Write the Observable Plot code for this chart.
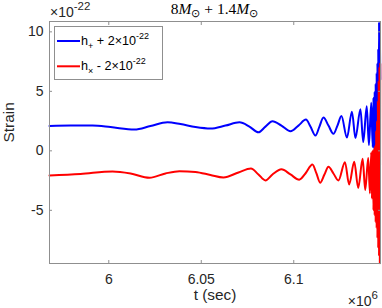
<!DOCTYPE html>
<html><head><meta charset="utf-8">
<script src="https://cdn.jsdelivr.net/npm/d3@7"></script>
<script src="https://cdn.jsdelivr.net/npm/@observablehq/plot@0.6"></script>
<style>
html,body{margin:0;padding:0;background:#fff;}
#chart svg{display:block;}
</style></head><body><div id="chart"></div>
<script>
// time in units of 10^6 s, strain in units of 10^-22
const tPlus = [5.96795,5.9793,5.99119,6.00092,6.01389,6.02254,6.03173,6.03876,6.04686,6.05497,6.06308,6.07065,6.07605,6.08092,6.0847,6.08849,6.09335,6.09822,6.10254,6.10659,6.10903,6.11173,6.11389,6.11605,6.11876,6.12146,6.12362,6.12578,6.12876,6.13146,6.13335,6.13605,6.13757,6.13946,6.14065,6.14189,6.1427,6.14308,6.14341,6.14373,6.144,6.14427,6.14454,6.14481,6.14503,6.14524,6.14546,6.14568,6.14589,6.14611,6.14632,6.14654,6.14676];
const hPlus = [2.096,2.137,2.121,1.995,1.785,2.079,2.397,2.246,1.995,1.869,2.121,2.397,2.037,1.559,2.037,2.481,2.121,1.643,2.121,2.624,2.037,1.282,2.037,2.791,2.121,1.425,2.121,2.917,1.115,3.294,1.073,3.504,0.738,3.755,0.486,4.049,0.318,4.47,0.19,4.97,0.11,5.64,0.11,6.56,0.19,7.4,0.5,8.58,1.0,10.84,4.0,10.7,6.0];
const tCross = [5.96795,5.98471,6.00205,6.01178,6.022,6.03065,6.03822,6.04686,6.05497,6.062,6.07011,6.07686,6.08092,6.0847,6.08849,6.09335,6.09822,6.10297,6.10632,6.11011,6.11227,6.11427,6.11659,6.11876,6.12146,6.12416,6.12768,6.12995,6.1327,6.13486,6.13724,6.13865,6.14027,6.14119,6.14189,6.14227,6.1427,6.14308,6.14341,6.14373,6.144,6.14427,6.14454,6.14481,6.14503,6.14524,6.14546,6.14568,6.14589,6.14611,6.14632,6.14654,6.14676];
const hCross = [-2.07,-1.945,-1.735,-1.903,-2.263,-1.903,-1.71,-1.776,-2.028,-2.238,-1.819,-1.484,-1.987,-2.49,-1.987,-1.551,-1.987,-2.422,-1.903,-1.148,-1.903,-2.674,-1.987,-1.341,-1.903,-2.49,-0.956,-2.825,-0.922,-3.118,-0.671,-3.286,-0.604,-3.579,-0.142,-4.0,0.025,-5.0,0.19,-5.42,0.44,-6.01,1.7,-6.51,2.54,-7.35,4.22,-8.19,5.89,-8.86,7.07,-9.45,7.32];
const xTicks = [6, 6.05, 6.1];
const yTicks = [-5, 0, 5, 10];
const xDomain = [5.96795, 6.1469];
const yDomain = [-9.47, 10.87];
const xLabel = "t (sec)";
const yLabel = "Strain";
const seriesColors = ["#0000ff", "#ff0000"];

const plus = tPlus.map((t, i) => ({t, h: hPlus[i]}));
const cross = tCross.map((t, i) => ({t, h: hCross[i]}));

const W = 382, H = 308, mL = 49, mR = 2, mT = 21, mB = 45;
const sans = "'Liberation Sans', Arial, Helvetica, sans-serif";
const serif = "'Liberation Serif', 'Times New Roman', serif";
const txt = "#262626", axc = "#8f8f8f";

const chart = Plot.plot({
  width: W, height: H,
  marginLeft: mL, marginRight: mR, marginTop: mT, marginBottom: mB,
  style: {fontFamily: sans, background: "#fff", color: txt},
  x: {domain: xDomain},
  y: {domain: yDomain},
  marks: [
    Plot.line(plus, {x: "t", y: "h", stroke: seriesColors[0], strokeWidth: 2, curve: "monotone-x"}),
    Plot.line(cross, {x: "t", y: "h", stroke: seriesColors[1], strokeWidth: 2, curve: "monotone-x"}),
    Plot.frame({stroke: axc}),
    Plot.axisX(xTicks, {anchor: "bottom", tickSize: -3, tickPadding: 14, fontSize: 14, stroke: axc, fill: txt, tickFormat: d => String(d), label: null}),
    Plot.axisX(xTicks, {anchor: "top", tickSize: -3, stroke: axc, tickFormat: () => "", label: null}),
    Plot.axisY(yTicks, {anchor: "left", tickSize: -3, tickPadding: 9, fontSize: 14, stroke: axc, fill: txt, tickFormat: d => String(d), label: null}),
    Plot.axisY(yTicks, {anchor: "right", tickSize: -3, stroke: axc, tickFormat: () => "", label: null}),
    Plot.text([yLabel], {text: d => d, frameAnchor: "left", dx: -40, rotate: -90, fontSize: 15.4, fill: txt}),
    Plot.text([xLabel], {text: d => d, frameAnchor: "bottom", dy: 36, fontSize: 15.4, fill: txt})
  ]
});
document.getElementById("chart").appendChild(chart);

const svg = d3.select(chart);
const cx = mL + (W - mL - mR) / 2;

// title (TeX-like)
const title = svg.append("text").attr("x", cx).attr("y", 14).attr("text-anchor", "middle")
  .attr("font-family", serif).attr("font-size", 15.5).attr("fill", "#000");
title.append("tspan").text("8");
title.append("tspan").attr("font-style", "italic").text("M");
title.append("tspan").attr("font-size", 10.5).attr("dy", 3).text("⊙");
title.append("tspan").attr("dy", -3).text(" + 1.4");
title.append("tspan").attr("font-style", "italic").text("M");
title.append("tspan").attr("font-size", 10.5).attr("dy", 3).text("⊙");

// y multiplier
const ym = svg.append("text").attr("x", mL + 1).attr("y", 17).attr("text-anchor", "start")
  .attr("font-family", sans).attr("font-size", 14).attr("fill", txt);
ym.append("tspan").text("×10");
ym.append("tspan").attr("font-size", 11.5).attr("dy", -7).text("-22");

// x multiplier
const xm = svg.append("text").attr("x", W - 4).attr("y", 305.5).attr("text-anchor", "end")
  .attr("font-family", sans).attr("font-size", 14).attr("fill", txt);
xm.append("tspan").text("×10");
xm.append("tspan").attr("font-size", 11.5).attr("dy", -7).text("6");

// legend
const lg = svg.append("g");
lg.append("rect").attr("x", mL + 5.5).attr("y", mT + 5.5).attr("width", 108).attr("height", 53)
  .attr("fill", "#fff").attr("stroke", axc);
const entries = [["+", " + 2×10"], ["×", " - 2×10"]];
entries.forEach(([sub, rest], i) => {
  const yy = mT + 20 + i * 25.3;
  lg.append("line").attr("x1", mL + 8).attr("x2", mL + 31).attr("y1", yy).attr("y2", yy)
    .attr("stroke", seriesColors[i]).attr("stroke-width", 2);
  const t = lg.append("text").attr("x", mL + 32).attr("y", yy + 4).attr("text-anchor", "start")
    .attr("font-family", sans).attr("font-size", 12.6).attr("fill", "#000");
  t.append("tspan").text("h");
  t.append("tspan").attr("font-size", 9).attr("dy", 4).text(sub);
  t.append("tspan").attr("dy", -4).text(rest);
  t.append("tspan").attr("font-size", 9).attr("dy", -6).text("-22");
});
</script>
</body></html>
